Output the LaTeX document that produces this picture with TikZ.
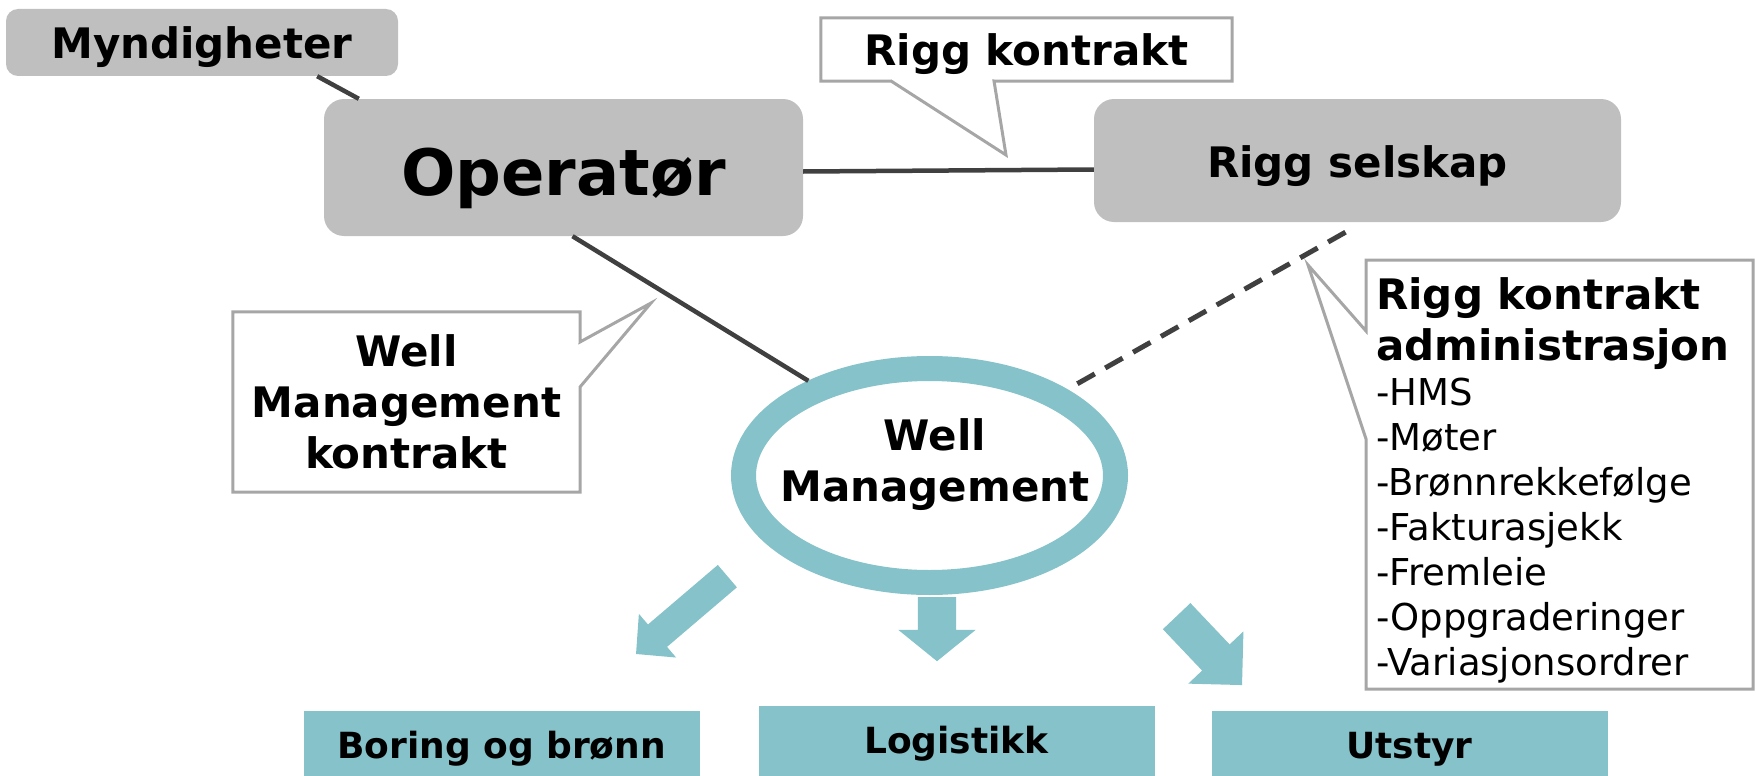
\documentclass[tikz,border=0pt]{standalone}
\usepackage{fontspec}
\setmainfont{DejaVu Sans}
\usetikzlibrary{shapes.geometric,shapes.arrows}
\definecolor{boxgray}{HTML}{BFBFBF}
\definecolor{wmteal}{HTML}{86C2C9}
\definecolor{linkgray}{HTML}{404040}
\definecolor{calloutgray}{HTML}{A6A6A6}

\begin{document}
\begin{tikzpicture}[x=1pt,y=-1pt,
    graybox/.style={fill=boxgray, inner sep=0pt, text height=33pt, text depth=0pt, font=\bfseries\fontsize{42}{51}\selectfont},
    tealbox/.style={fill=wmteal, inner sep=0pt, anchor=north, minimum width=396pt, minimum height=70pt, text height=26pt, text depth=2pt, font=\bfseries\fontsize{36}{43}\selectfont},
    notetext/.style={inner sep=0pt, align=center, font=\bfseries\fontsize{42}{51}\selectfont},
    link/.style={draw=linkgray, line width=4.5pt},
    dashlink/.style={draw=linkgray, line width=5pt, dash pattern=on 20pt off 12pt},
    callout/.style={draw=calloutgray, line width=3pt, line join=miter},
    ring/.style={ellipse, draw=wmteal, line width=25pt, inner sep=0pt, minimum width=372pt, minimum height=214pt},
    blockarrow/.style={single arrow, fill=wmteal, inner xsep=0pt, anchor=tail, single arrow head indent=0pt}]
    \useasboundingbox (0,0) rectangle (1756,776);

    % parties
    \node[graybox, rounded corners=12pt, minimum width=392pt, minimum height=67pt] (myn) at (202,42.5) {Myndigheter};
    \node[graybox, rounded corners=20pt, minimum width=479pt, minimum height=137pt, text height=55pt, font=\bfseries\fontsize{64}{70}\selectfont] (op) at (563.5,167.5) {Operatør};
    \node[graybox, rounded corners=20pt, minimum width=527pt, minimum height=123pt] (rs) at (1357.5,160.5) {Rigg selskap};

    % well management
    \node[ring] (wm) at (929.5,475.5) {};
    \node[notetext] (wmtxt) at (935,465) {Well\\Management};

    % contracts
    \node[notetext, minimum width=411pt, minimum height=63pt, text height=32pt, text depth=0pt] (rk) at (1026.5,49.5) {Rigg kontrakt};
    \draw[callout] (rk.north west) -- (rk.north east) -- (rk.south east) -- (994,81) -- (1006,155) -- (891,81) -- (rk.south west) -- cycle;
    \node[notetext, minimum width=347pt, minimum height=180pt] (wk) at (406.5,402) {Well\\Management\\kontrakt};
    \draw[callout] (wk.north west) -- (wk.north east) -- (580,342) -- (651,303) -- (580,387) -- (wk.south east) -- (wk.south west) -- cycle;
    \node[inner sep=0pt, anchor=north west, text width=375pt, align=flush left] (adm) at (1376,277)
        {{\bfseries\fontsize{42}{51}\selectfont Rigg kontrakt\\administrasjon\par}
         {\fontsize{37}{45}\selectfont -HMS\\-Møter\\-Brønnrekkefølge\\-Fakturasjekk\\-Fremleie\\-Oppgraderinger\\-Variasjonsordrer\par}};
    \draw[callout] (1366,260) -- (1753,260) -- (1753,689) -- (1366,689) -- (1366,439) -- (1308,265) -- (1366,331) -- cycle;

    % links
    \draw[link] ([xshift=-81pt]myn.south east) -- ([xshift=35pt]op.north west);
    \draw[link] ([yshift=-4pt]op.east) -- ([yshift=-9pt]rs.west);
    \draw[link] ([xshift=9pt]op.south) -- (wm.142);
    \draw[dashlink] ([xshift=-12pt,yshift=-10pt]rs.south) -- (wm.32);

    % work areas
    \node[blockarrow, inner ysep=14.5pt, minimum height=120pt, minimum width=57pt, single arrow head extend=14pt, single arrow tip angle=91, rotate=220.45] (arl) at (727.5,576) {};
    \node[blockarrow, inner ysep=19pt, minimum height=64pt, minimum width=77pt, single arrow head extend=19.5pt, single arrow tip angle=102, rotate=270] (arm) at (937,597) {};
    \node[blockarrow, inner ysep=18.75pt, minimum height=95pt, minimum width=76pt, single arrow head extend=19pt, rotate=-46.5] (arr) at (1176.5,616) {};

    \node[tealbox] (bor) at (501.5,711) {Boring og brønn};
    \node[tealbox] (log) at (956.5,706) {Logistikk};
    \node[tealbox] (uts) at (1409.5,711) {Utstyr};
\end{tikzpicture}
\end{document}
